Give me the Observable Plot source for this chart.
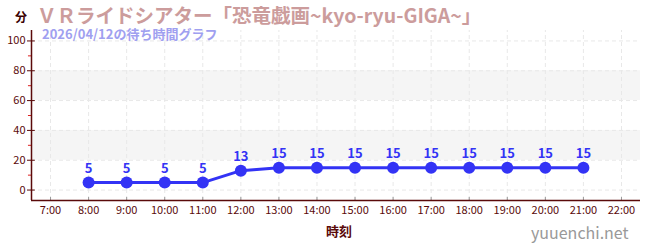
<!DOCTYPE html>
<html><head><meta charset="utf-8">
<script src="https://cdn.jsdelivr.net/npm/d3@7"></script>
<script src="https://cdn.jsdelivr.net/npm/@observablehq/plot@0.6"></script>
<style>
body{margin:0;background:#fff;}
#wrap{position:relative;width:650px;height:250px;font-family:"Noto Sans CJK JP","Noto Sans",sans-serif;}
.t{position:absolute;white-space:nowrap;line-height:1;}
</style></head><body>
<div id="wrap"></div>
<script>
const hours = [8,9,10,11,12,13,14,15,16,17,18,19,20,21];
const waits = [5,5,5,5,13,15,15,15,15,15,15,15,15,15];
const xTicks = [7,8,9,10,11,12,13,14,15,16,17,18,19,20,21,22];
const yTicks = [0,20,40,60,80,100];
const yMinor = [10,30,50,70,90];
const bands = [[20,40],[60,80]];
const title = "ＶＲライドシアター「恐竜戯画~kyo-ryu-GIGA~」";
const subtitle = "2026/04/12の待ち時間グラフ";

const data = hours.map((h,i)=>({h, v:waits[i]}));
const dark = "#5a0a0a";
const blue = "#3333f5";

const chart = Plot.plot({
  width:650, height:250,
  marginLeft:31, marginRight:10, marginTop:30, marginBottom:50,
  style:{fontFamily:'"Noto Sans CJK JP",sans-serif', background:"#fff"},
  x:{domain:[6.5,22.5], axis:null},
  y:{domain:[-7,107], axis:null},
  marks:[
    Plot.rect(bands,{x1:6.5,x2:22.5,y1:d=>d[0],y2:d=>d[1],fill:"#f5f5f5"}),
    Plot.ruleX(xTicks,{x:d=>d,y1:-7,y2:107,stroke:"#e8e8e8",strokeDasharray:"4,3"}),
    Plot.ruleY(yTicks,{y:d=>d,x1:6.5,x2:22.5,stroke:"#e8e8e8",strokeDasharray:"4,3"}),
    Plot.ruleX(xTicks,{x:d=>d,y1:-7,y2:-5,stroke:"#999"}),
    Plot.axisX({ticks:xTicks,tickFormat:d=>d+":00",tickSize:0,tickPadding:6,fontSize:11,color:dark,anchor:"bottom",label:null}),
    Plot.axisY({ticks:yTicks,tickSize:4,tickPadding:2,fontSize:11,color:dark,anchor:"left",label:null}),
    Plot.ruleY(yTicks,{y:d=>d,x1:6.5,x2:6.6,stroke:dark}),
    Plot.ruleY(yMinor,{y:d=>d,x1:6.42,x2:6.5,stroke:"#dd2222"}),
    Plot.ruleY([-7],{x1:6.5,x2:22.5,stroke:dark,strokeWidth:1.5}),
    Plot.ruleX([6.5],{y1:-7,y2:107,stroke:dark,strokeWidth:1.5}),
    Plot.lineY(data,{x:"h",y:"v",stroke:blue,strokeWidth:3}),
    Plot.dot(data,{x:"h",y:"v",r:6,fill:blue}),
    Plot.text(data,{x:"h",y:"v",text:d=>String(d.v),dy:-14,fill:blue,fontSize:13,fontWeight:"bold"})
  ]
});
const wrap = document.getElementById("wrap");
wrap.appendChild(chart);
function addText(txt, css){const d=document.createElement("div");d.className="t";d.textContent=txt;Object.assign(d.style,css);wrap.appendChild(d);}
addText("分",{left:"15px",top:"11px",fontSize:"12px",fontWeight:"bold",color:"#3a0000"});
addText(title,{left:"37px",top:"5px",fontSize:"19.5px",fontWeight:"bold",color:"#cc9c9c"});
addText(subtitle,{left:"42px",top:"27px",fontSize:"13px",fontWeight:"bold",color:"#9fa0f0"});
addText("時刻",{left:"326px",top:"224px",fontSize:"13px",fontWeight:"bold",color:dark});
addText("yuuenchi.net",{left:"531px",top:"224px",fontSize:"16px",color:"#999"});
</script>
</body></html>
